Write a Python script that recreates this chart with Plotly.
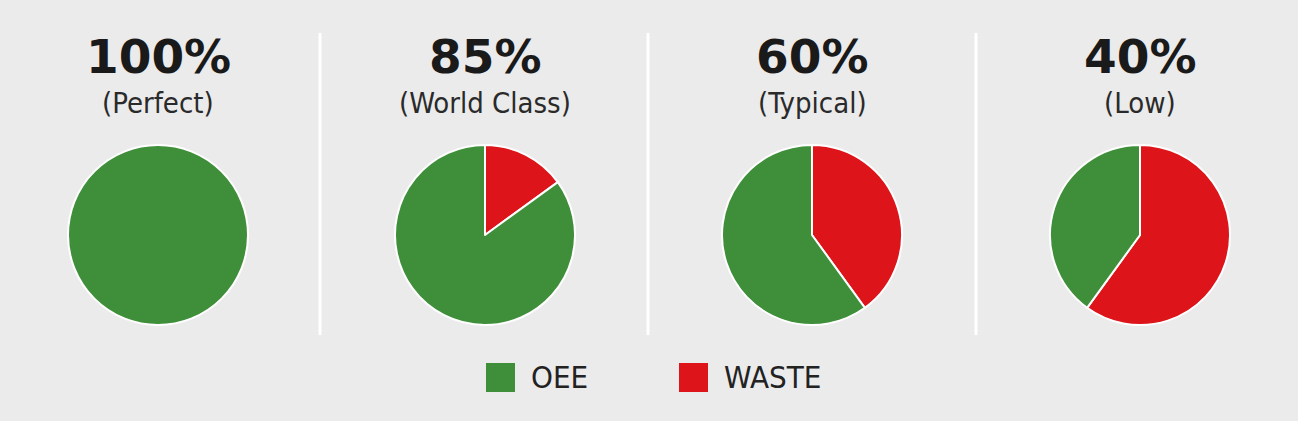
import plotly.graph_objects as go

# Data
scores = ["100%", "85%", "60%", "40%"]
classes = ["(Perfect)", "(World Class)", "(Typical)", "(Low)"]
oee_values = [100, 85, 60, 40]
waste_values = [0, 15, 40, 60]
labels = ["WASTE", "OEE"]
legend_labels = ["OEE", "WASTE"]
colors = {"OEE": "#3f8f3a", "WASTE": "#dd1419"}

W, H = 1298, 421
BG = "#ebebeb"
centers_px = [158, 485, 812, 1140]
cy_px = 235
R = 90
COND = "DejaVu Sans Condensed, Liberation Sans Narrow, Roboto, sans-serif"

fig = go.Figure()
for i, cx in enumerate(centers_px):
    fig.add_trace(go.Pie(
        labels=labels,
        values=[waste_values[i], oee_values[i]],
        marker=dict(colors=[colors[l] for l in labels], line=dict(color="white", width=2)),
        sort=False, direction="clockwise", rotation=0,
        textinfo="none", hoverinfo="label+value", showlegend=False,
        domain=dict(x=[(cx - R) / W, (cx + R) / W],
                    y=[(H - cy_px - R) / H, (H - cy_px + R) / H]),
    ))
    fig.add_annotation(x=cx / W, y=1 - 56 / H, xref="paper", yref="paper",
                       text="<b>%s</b>" % scores[i], showarrow=False,
                       font=dict(family="DejaVu Sans", size=47, color="#1a1a1a"),
                       xanchor="center", yanchor="middle")
    fig.add_annotation(x=cx / W, y=1 - 103 / H, xref="paper", yref="paper",
                       text=classes[i], showarrow=False,
                       font=dict(family=COND, size=29, color="#2a2a2a"),
                       xanchor="center", yanchor="middle")

shapes = []
for xd in [320, 648, 976]:
    shapes.append(dict(type="line", xref="paper", yref="paper",
                       x0=xd / W, x1=xd / W, y0=1 - 33 / H, y1=1 - 335 / H,
                       line=dict(color="white", width=3)))

legend_x = [486, 679]
for lx, lab in zip(legend_x, legend_labels):
    shapes.append(dict(type="rect", xref="paper", yref="paper",
                       x0=lx / W, x1=(lx + 29) / W, y0=1 - 392 / H, y1=1 - 363 / H,
                       fillcolor=colors[lab], line=dict(width=0)))
    fig.add_annotation(x=(lx + 43) / W, y=1 - 377 / H, xref="paper", yref="paper",
                       text=lab, showarrow=False, xanchor="left", yanchor="middle",
                       font=dict(family=COND, size=31, color="#222222"))

fig.update_layout(width=W, height=H, margin=dict(l=0, r=0, t=0, b=0),
                  paper_bgcolor=BG, plot_bgcolor=BG, shapes=shapes)
fig.write_html("out.html", config={"displayModeBar": False},
               post_script="document.body.style.margin='0';document.body.style.background='%s';" % BG)
